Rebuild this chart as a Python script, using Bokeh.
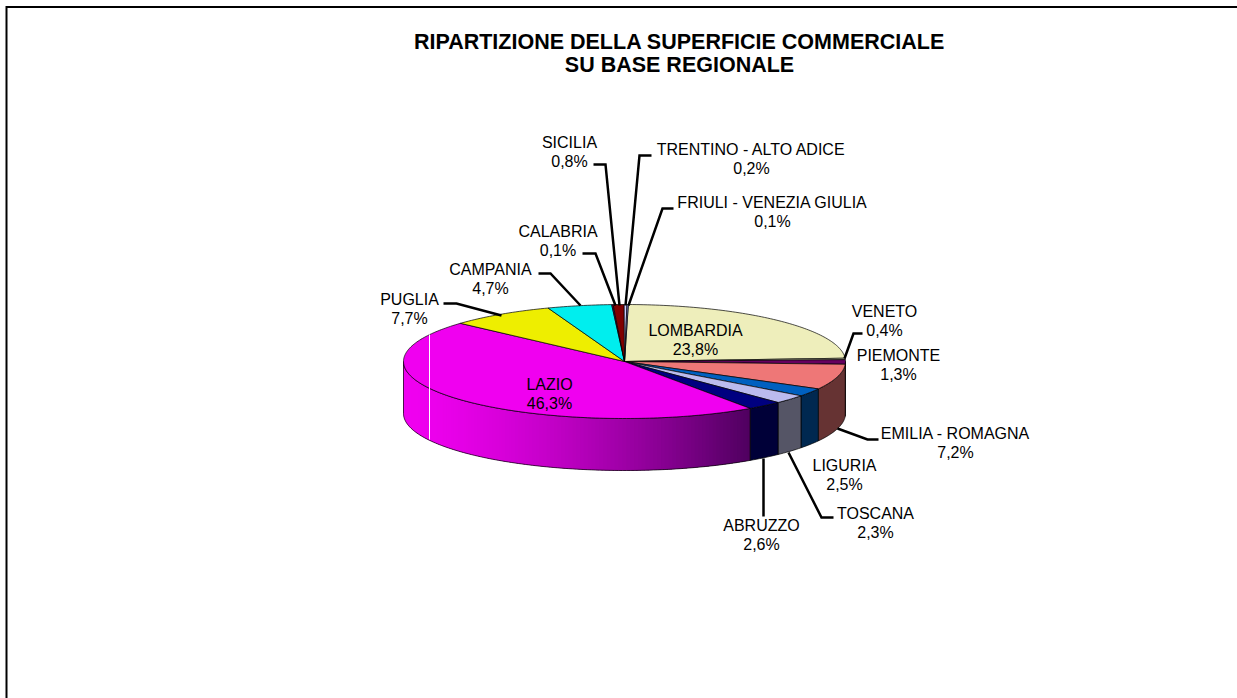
import math
from bokeh.plotting import figure
from bokeh.embed import file_html
from bokeh.resources import INLINE
from bokeh.core.properties import value

regions = ["LOMBARDIA", "VENETO", "PIEMONTE", "EMILIA - ROMAGNA", "TOSCANA", "LIGURIA", "ABRUZZO",
           "LAZIO", "PUGLIA", "CAMPANIA", "CALABRIA", "SICILIA", "TRENTINO - ALTO ADICE", "FRIULI - VENEZIA GIULIA"]
shares = [23.8, 0.4, 1.3, 7.2, 2.3, 2.5, 2.6, 46.3, 7.7, 4.7, 0.1, 0.8, 0.2, 0.1]
tops = ["#EEEEBB", "#FFFFCC", "#66005F", "#EE7777", "#0060C0", "#BBBBEE", "#000080",
        "#F000F0", "#EEEE00", "#00EEEE", "#660066", "#800000", "#CCCCFF", "#8888DD"]
side_from = ["#77775E", "#77775E", "#330030", "#663333", "#002850", "#555566", "#000038",
             "#F000F0", "#777700", "#007777", "#330033", "#400000", "#666680", "#44446E"]
side_to = ["#77775E", "#77775E", "#330030", "#663333", "#002850", "#555566", "#000038",
           "#500060", "#777700", "#007777", "#330033", "#400000", "#666680", "#44446E"]
label_pos = {"LOMBARDIA": (695, 330), "VENETO": (884, 311), "PIEMONTE": (898, 355), "EMILIA - ROMAGNA": (955, 433),
             "TOSCANA": (875, 513), "LIGURIA": (844, 465), "ABRUZZO": (761, 525), "LAZIO": (549, 384),
             "PUGLIA": (409, 299), "CAMPANIA": (490, 269), "CALABRIA": (557.5, 231), "SICILIA": (569, 142),
             "TRENTINO - ALTO ADICE": (751, 149), "FRIULI - VENEZIA GIULIA": (772, 202)}
leaders = [[(593, 164), (605, 164), (619, 305)], [(651, 155), (639, 155), (625, 305)],
           [(673, 208), (662, 208), (628, 305)], [(582, 253), (595, 253), (615, 305)],
           [(538, 273), (550, 273), (580, 305)], [(443, 303), (456, 303), (501, 315)],
           [(862, 333), (853, 333), (844, 358)], [(878, 439), (867, 439), (837, 428)],
           [(833, 517), (821, 517), (788, 452)], [(763, 516), (763, 458)]]
title_lines = ["RIPARTIZIONE DELLA SUPERFICIE COMMERCIALE", "SU BASE REGIONALE"]

W, H = 1237, 698
CX, CY, RX, RY, DEPTH, START = 624.0, 361.0, 221.0, 57.0, 52.0, 1.0
FONT = value("Liberation Sans")


def rgb(c):
    return [int(c[i:i + 2], 16) for i in (1, 3, 5)]


def pt(deg, dy=0.0):
    r = math.radians(deg)
    return CX + RX * math.sin(r), CY - RY * math.cos(r) + dy


p = figure(width=W, height=H, x_range=(0, W), y_range=(H, 0), output_backend="svg", toolbar_location=None,
           min_border=0, outline_line_color=None, background_fill_color="white", border_fill_color="white")
p.axis.visible = False
p.grid.visible = False
p.styles = {"position": "absolute", "left": "0px", "top": "0px"}

# slice angles from the values
cum = 0.0
slices = []
for name, s, t, a, b in zip(regions, shares, tops, side_from, side_to):
    d0 = START + cum * 3.6
    cum += s
    d1 = START + cum * 3.6
    slices.append((name, d0, d1, t, a, b))

# side wall (only the front half is visible)
for name, d0, d1, t, a, b in slices:
    lo, hi = max(d0, 90.0), min(d1, 270.0)
    if lo >= hi:
        continue
    ca, cb = rgb(a), rgb(b)
    grad = a != b
    n = max(2, int((hi - lo) / 1.0))
    if grad:
        # the wall fades from the left (bright) to the right (dark)
        xl, xr = pt(hi)[0], pt(lo)[0]
        for i in range(n):
            t0 = lo + (hi - lo) * i / n
            t1 = min(hi, t0 + (hi - lo) / n + 1.5)
            x0, y0 = pt(t0)
            x1, y1 = pt(t1)
            f = min(1.0, max(0.0, (x0 - xl) / (xr - xl))) ** 1.5
            col = "#%02X%02X%02X" % tuple(round(ca[k] + (cb[k] - ca[k]) * f) for k in range(3))
            p.patch([x0, x1, x1, x0], [y0, y1, y1 + DEPTH, y0 + DEPTH], fill_color=col, line_color=None)
    degs = [lo + (hi - lo) * i / n for i in range(n + 1)]
    xs = [pt(d)[0] for d in degs] + [pt(d)[0] for d in reversed(degs)]
    ys = [pt(d)[1] for d in degs] + [pt(d, DEPTH)[1] for d in reversed(degs)]
    p.patch(xs, ys, fill_color=a if not grad else None, fill_alpha=1 if not grad else 0, line_color="black", line_width=0.7)

# top face
for name, d0, d1, t, a, b in slices:
    n = max(2, int((d1 - d0) / 1.0))
    degs = [d0 + (d1 - d0) * i / n for i in range(n + 1)]
    xs = [CX] + [pt(d)[0] for d in degs]
    ys = [CY] + [pt(d)[1] for d in degs]
    p.patch(xs, ys, fill_color=t, line_color="black", line_width=0.7)

# thin white highlight on the Lazio slice
p.line([429, 429], [334, 439], line_color="white", line_width=1)

for path in leaders:
    p.line([q[0] for q in path], [q[1] for q in path], line_color="black", line_width=2.5, line_join="miter")

# frame: left and top only
p.line([6, 6, W], [H, 6.5, 6.5], line_color="black", line_width=2, line_join="miter")

for name, s in zip(regions, shares):
    x, y = label_pos[name]
    pct = ("%.1f%%" % s).replace(".", ",")
    p.text([x, x], [y, y + 18.7], text=[name, pct], text_font=FONT, text_font_size="16px", text_color="black",
           text_align="center", text_baseline="middle")

p.text([679, 679], [41, 64], text=title_lines, text_font=FONT, text_font_style="bold", text_font_size="21.5px",
       text_color="black", text_align="center", text_baseline="middle")

open("out.html", "w").write(file_html(p, INLINE))
